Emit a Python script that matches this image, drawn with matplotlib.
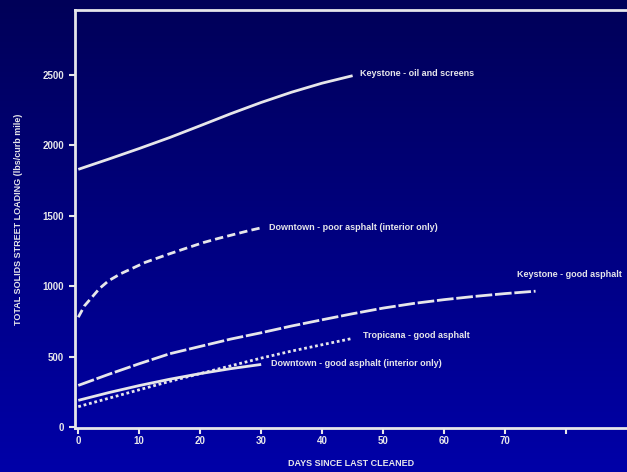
import matplotlib
matplotlib.use("Agg")
import matplotlib.pyplot as plt
import numpy as np

plt.rcParams['font.family'] = ['Liberation Sans', 'DejaVu Sans']

# days since last cleaned / loading (lb per curb mile)
keystone_oil_days = [0, 5, 10, 15, 20, 25, 30, 35, 40, 45]
keystone_oil_vals = [1830, 1903, 1978, 2056, 2140, 2225, 2305, 2378, 2442, 2495]

downtown_poor_days = [0, 1, 2, 3.5, 5, 7, 8.5, 11, 14.6, 17, 20.5, 23, 26, 28, 30]
downtown_poor_vals = [780, 860, 910, 985, 1040, 1090, 1120, 1170, 1225, 1260, 1310, 1340, 1373, 1395, 1415]

keystone_good_days = [0, 5, 10, 15, 20, 25, 30, 35, 40, 45, 50, 55, 60, 65, 70, 75]
keystone_good_vals = [296, 375, 450, 521, 573, 625, 670, 718, 762, 805, 845, 878, 905, 928, 948, 965]

tropicana_days = [0, 5, 10, 15, 20, 25, 30, 35, 40, 45]
tropicana_vals = [145, 205, 265, 325, 380, 435, 490, 540, 585, 630]

downtown_good_days = [0, 5, 10, 15, 20, 25, 30]
downtown_good_vals = [190, 245, 295, 340, 380, 415, 445]

series_labels = ["Keystone - oil and screens",
                 "Downtown - poor asphalt (interior only)",
                 "Keystone - good asphalt",
                 "Tropicana - good asphalt",
                 "Downtown - good asphalt (interior only)"]

x_ticks = [0, 10, 20, 30, 40, 50, 60, 70, 80]
x_tick_labels = ["0", "10", "20", "30", "40", "50", "60", "70", ""]
y_ticks = [0, 500, 1000, 1500, 2000, 2500]

fg = "#e6e6ea"

fig = plt.figure(figsize=(6.27, 4.72), dpi=100)

# blue gradient background
bg = fig.add_axes([0, 0, 1, 1], zorder=-10)
grad = np.linspace(0, 1, 256).reshape(-1, 1)
top = np.array([0, 0, 88]) / 255
bottom = np.array([0, 0, 168]) / 255
img = top + (bottom - top) * grad[..., None]
bg.imshow(np.repeat(img, 2, axis=1), aspect="auto", extent=[0, 1, 0, 1])
bg.axis("off")

ax = fig.add_axes([0.119, 0.093, 0.881, 0.886])
ax.patch.set_alpha(0)

lines = [
    (keystone_oil_days, keystone_oil_vals, "-", (7, 2)),
    (downtown_poor_days, downtown_poor_vals, (0, (3, 1.5)), (8, 0)),
    (keystone_good_days, keystone_good_vals, (0, (6, 1)), (-19, 17)),
    (tropicana_days, tropicana_vals, (0, (1, 1)), (10, 3)),
    (downtown_good_days, downtown_good_vals, "-", (10, 1)),
]
for (d, v, ls, off), lab in zip(lines, series_labels):
    ax.plot(d, v, color=fg, lw=2, linestyle=ls, solid_capstyle="butt")
    ax.annotate(lab, (d[-1], v[-1]), xytext=off, textcoords="offset pixels",
                color=fg, fontsize=6.5, fontweight="bold", va="center", ha="left")

ax.set_xlim(-0.6, 90)
ax.set_ylim(-7, 2962)
ax.set_xticks(x_ticks)
ax.set_xticklabels(x_tick_labels)
ax.set_yticks(y_ticks)
ax.tick_params(colors=fg, labelsize=7, width=1.5, length=4)
ax.tick_params(axis="x", pad=2)
for t in ax.get_xticklabels() + ax.get_yticklabels():
    t.set_fontweight("bold")

for s in ["left", "top", "bottom"]:
    ax.spines[s].set_color(fg)
    ax.spines[s].set_linewidth(2)
ax.spines["right"].set_visible(False)

ax.set_xlabel("DAYS SINCE LAST CLEANED", color=fg, fontsize=6.5, fontweight="bold", labelpad=9)
ax.set_ylabel("TOTAL SOLIDS STREET LOADING (lbs/curb mile)", color=fg, fontsize=6.5,
              fontweight="bold", labelpad=14)

fig.savefig("out.png", dpi=100)
